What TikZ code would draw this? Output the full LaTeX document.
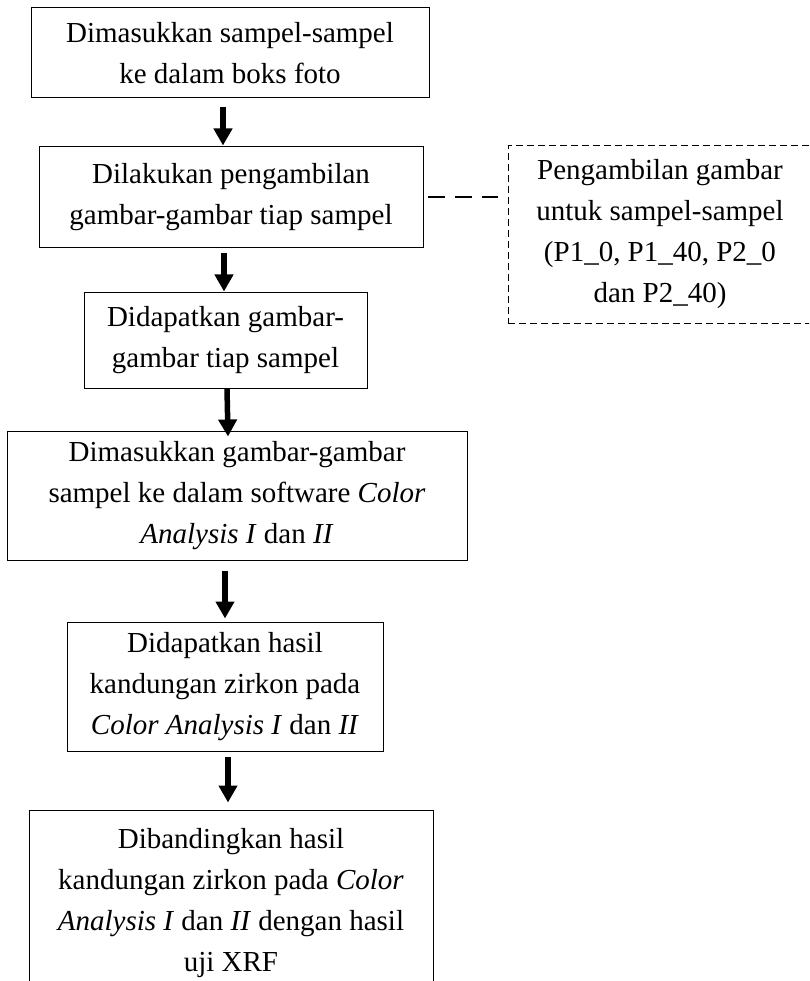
\documentclass[tikz,border=0pt]{standalone}
\usepackage{fontspec}
\setmainfont{Liberation Serif}
\usetikzlibrary{arrows.meta,calc}
\begin{document}
\begin{tikzpicture}[x=1pt,y=1pt,
  box/.style={draw, line width=1pt, align=center, inner sep=0pt,
    font=\fontsize{29}{41}\selectfont},
  dbox/.style={draw, line width=1pt, dash pattern=on 7pt off 4pt, align=center, inner sep=0pt,
    font=\fontsize{29}{41}\selectfont},
  arr/.style={line width=5.5pt, -{Triangle[width=18pt,length=17pt]}},
  link/.style={line width=2.7pt, dash pattern=on 17pt off 10pt}]
\clip (0,0) rectangle (809,-981);
\fill[white] (0,0) rectangle (809,-981);

\node[box, minimum width=398pt, minimum height=90pt] (b1) at (230,-53)
  {Dimasukkan sampel-sampel\\ke dalam boks foto};
\node[box, minimum width=384pt, minimum height=101pt] (b2) at (231,-197.5)
  {Dilakukan pengambilan\\gambar-gambar tiap sampel};
\node[dbox, minimum width=304pt, minimum height=177pt] (d1) at (660,-234.5)
  {Pengambilan gambar\\untuk sampel-sampel\\(P1\_0, P1\_40, P2\_0\\dan P2\_40)};
\node[box, minimum width=283pt, minimum height=96pt] (b3) at (225.5,-340)
  {Didapatkan gambar-\\gambar tiap sampel};
\node[box, minimum width=460pt, minimum height=129pt] (b4) at (237,-495.5)
  {Dimasukkan gambar-gambar\\sampel ke dalam software \textit{Color}\\\textit{Analysis I} dan \textit{II}};
\node[box, minimum width=316pt, minimum height=129pt] (b5) at (225,-686.5)
  {Didapatkan hasil\\kandungan zirkon pada\\\textit{Color Analysis I} dan \textit{II}};
\node[box, minimum width=404pt, minimum height=186pt] (b6) at (231,-903)
  {Dibandingkan hasil\\kandungan zirkon pada \textit{Color}\\\textit{Analysis I} dan \textit{II} dengan hasil\\uji XRF};

\draw[arr] ([xshift=-7pt,yshift=-9pt]b1.south) -- ([xshift=-8pt,yshift=1pt]b2.north);
\draw[arr] ([xshift=-7pt,yshift=-5pt]b2.south) -- ([xshift=-1.5pt]b3.north);
\draw[arr] ([xshift=1.5pt]b3.south) -- ([xshift=-9pt,yshift=-6pt]b4.north);
\draw[arr] ([xshift=-12pt,yshift=-10pt]b4.south) -- ([yshift=3pt]b5.north);
\draw[arr] ([xshift=3pt,yshift=-5pt]b5.south) -- ([xshift=-3pt,yshift=7pt]b6.north);

\draw[link] ([xshift=4pt,yshift=0.5pt]b2.east) -- ($(b2.east -| d1.west)+(-10pt,0.5pt)$);
\end{tikzpicture}
\end{document}
